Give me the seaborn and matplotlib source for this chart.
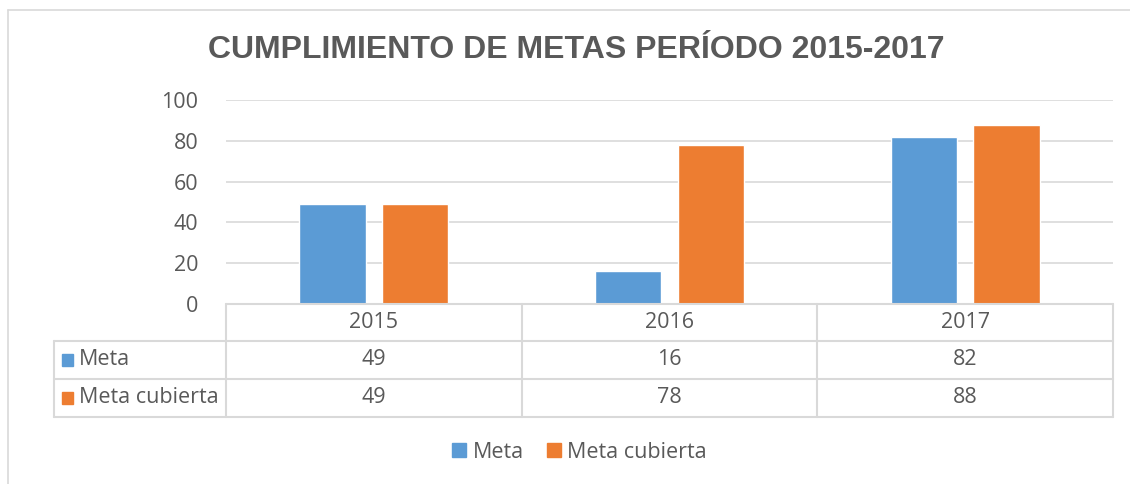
import matplotlib
matplotlib.use("Agg")
import matplotlib.pyplot as plt
from matplotlib.lines import Line2D
from matplotlib.patches import Rectangle
import seaborn as sns
import pandas as pd

years = ["2015", "2016", "2017"]
series_names = ["Meta", "Meta cubierta"]
meta = [49, 16, 82]
meta_cubierta = [49, 78, 88]
colors = ["#5B9BD5", "#ED7D31"]
title = "CUMPLIMIENTO DE METAS PERÍODO 2015-2017"

sns.set_style("white")
plt.rcParams["font.family"] = ["Open Sans", "DejaVu Sans"]
text_color = "#595959"
line_color = "#d9d9d9"
fs = 15.5

df = pd.DataFrame({
    "year": years * 2,
    "serie": [series_names[0]] * 3 + [series_names[1]] * 3,
    "value": meta + meta_cubierta,
})

fig = plt.figure(figsize=(11.3, 4.84), dpi=100)
ax = fig.add_axes([0.2, 0.372, 0.785, 0.421])

sns.barplot(data=df, x="year", y="value", hue="serie", palette=colors,
            width=0.56, gap=0.2, ax=ax, legend=False, saturation=1)

ax.set_xlim(-0.5, 2.5)
ax.set_ylim(0, 100)
ax.set_yticks(range(0, 101, 20))
ax.yaxis.grid(True, color=line_color, linewidth=1.2)
ax.set_axisbelow(True)
for s in ax.spines.values():
    s.set_visible(False)
ax.set_xticks([])
ax.set_xlabel("")
ax.set_ylabel("")
ax.tick_params(axis="y", length=0, pad=20, labelsize=fs, labelcolor=text_color)

# data table under the axis
tr = ax.get_xaxis_transform()
row_y = [0, -0.181, -0.368, -0.554]
x_left = -1.081
kw = dict(transform=tr, color=line_color, linewidth=1.5, clip_on=False)
ax.plot([-0.5, 2.5], [row_y[0], row_y[0]], **kw)
for y in row_y[1:]:
    ax.plot([x_left, 2.5], [y, y], **kw)
for x in [-0.5, 0.5, 1.5, 2.5]:
    ax.plot([x, x], [row_y[0], row_y[-1]], **kw)
ax.plot([x_left, x_left], [row_y[1], row_y[-1]], **kw)

for i, yr in enumerate(years):
    ax.text(i, (row_y[0] + row_y[1]) / 2, yr, transform=tr, ha="center",
            va="center", fontsize=fs, color=text_color)
for r, (name, vals) in enumerate(zip(series_names, [meta, meta_cubierta])):
    yc = (row_y[r + 1] + row_y[r + 2]) / 2
    ax.add_patch(Rectangle((x_left + 0.028, yc - 0.028), 0.036, 0.056,
                           transform=tr, color=colors[r], clip_on=False))
    ax.text(x_left + 0.085, yc, name, transform=tr, ha="left", va="center",
            fontsize=fs, color=text_color)
    for i, v in enumerate(vals):
        ax.text(i, yc, str(v), transform=tr, ha="center", va="center",
                fontsize=fs, color=text_color)

# legend
handles = [Rectangle((0, 0), 1, 1, color=c) for c in colors]
fig.legend(handles, series_names, loc="center", bbox_to_anchor=(0.513, 0.066),
           ncol=2, frameon=False, fontsize=fs, handlelength=0.65, handleheight=0.65,
           handletextpad=0.28, columnspacing=1.1, labelcolor=text_color)

fig.text(0.51, 0.896, title, ha="center", va="center", fontsize=23,
         fontweight="bold", color=text_color, family="Liberation Sans")

# outer frame
fig.add_artist(Line2D([0.007, 1.0], [0.979, 0.979], color=line_color, linewidth=1.2))
fig.add_artist(Line2D([0.007, 0.007], [0.0, 0.979], color=line_color, linewidth=1.2))

fig.savefig("out.png", dpi=100, facecolor="white")
